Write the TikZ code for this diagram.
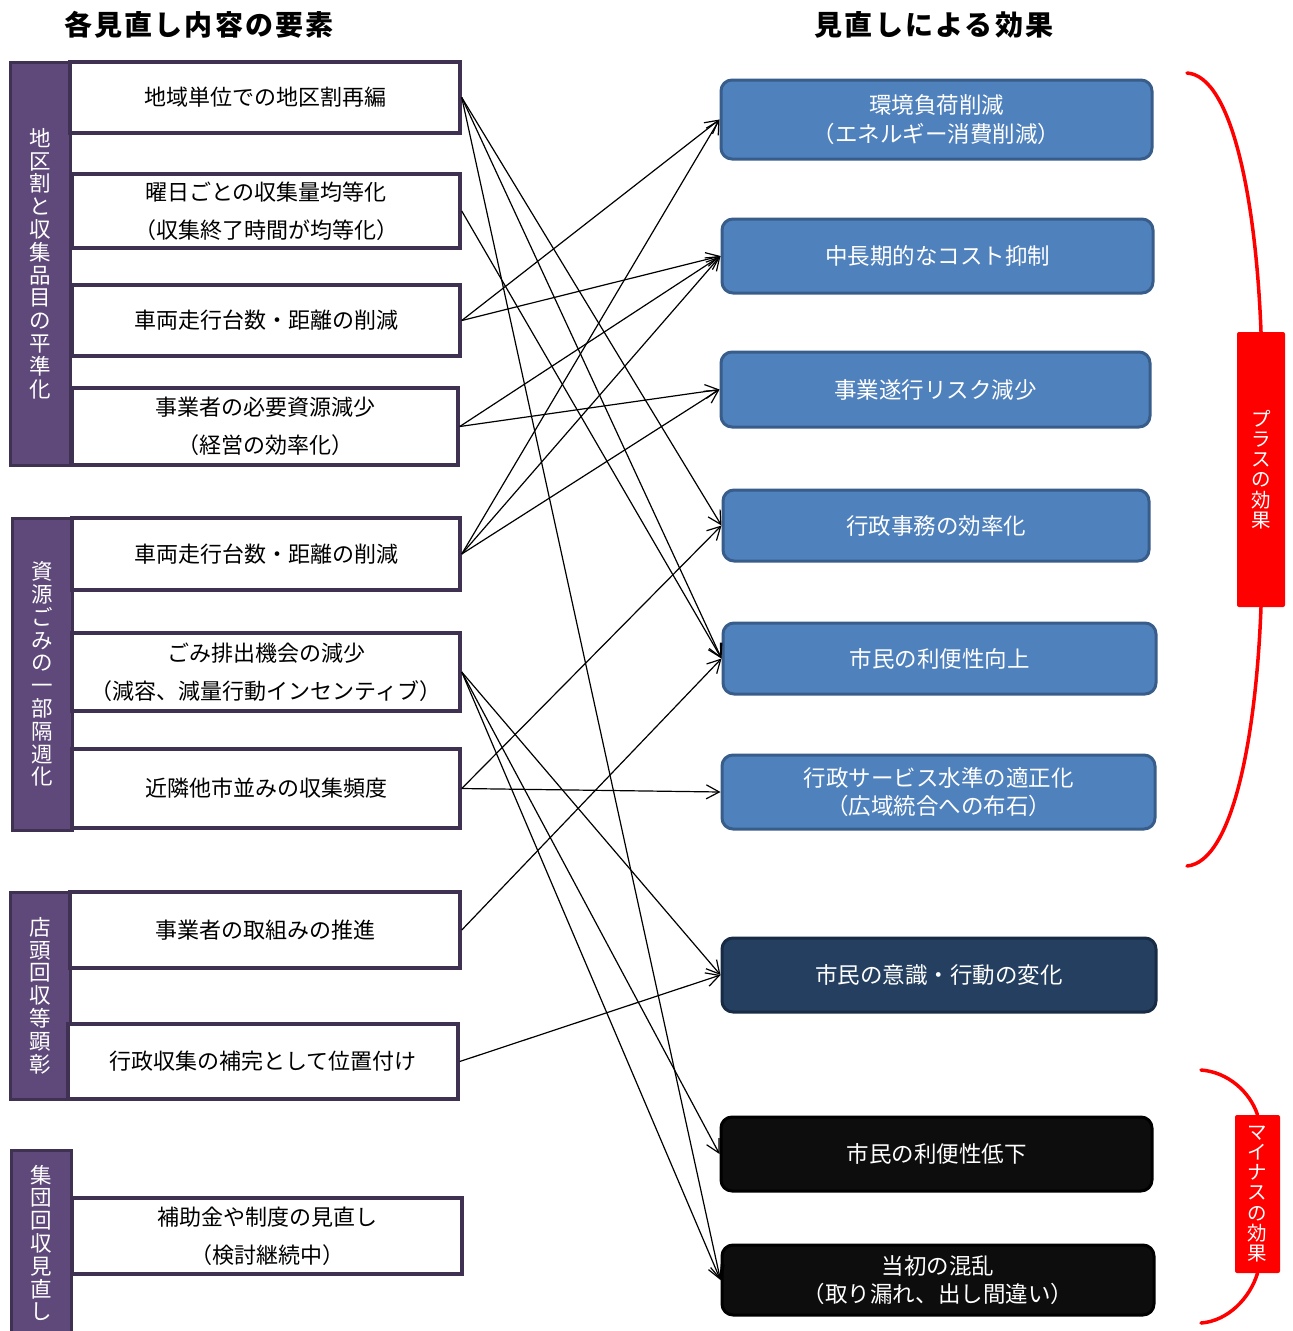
\documentclass[tikz,border=0pt]{standalone}
\usepackage{fontspec}
\setmainfont{Noto Sans CJK JP}
\usetikzlibrary{arrows.meta}
\definecolor{purplefill}{HTML}{5F497A}
\definecolor{purpledraw}{HTML}{3F3151}
\definecolor{bluefill}{HTML}{4F81BD}
\definecolor{bluedraw}{HTML}{385D8A}
\definecolor{navyfill}{HTML}{243F60}
\definecolor{navydraw}{HTML}{172B44}
\definecolor{blackfill}{HTML}{0D0D0D}
\begin{document}
\begin{tikzpicture}[x=1pt,y=-1pt,
  grp/.style={draw=purpledraw, fill=purplefill, line width=3pt, minimum width=60pt, inner sep=0pt, text=white, align=center, font=\fontsize{21.5}{22.8}\selectfont},
  lbox/.style={draw=purpledraw, fill=white, line width=3.5pt, inner sep=0pt, align=center, font=\fontsize{22}{38}\selectfont},
  rbox/.style={draw=bluedraw, fill=bluefill, line width=3pt, rounded corners=11pt, text=white, inner sep=0pt, align=center, font=\fontsize{22.5}{28.5}\selectfont},
  navybox/.style={rbox, draw=navydraw, fill=navyfill},
  blackbox/.style={rbox, draw=black, fill=blackfill},
  effbox/.style={fill=red, rounded corners=2pt, inner sep=0pt, text=white, align=center, font=\fontsize{19.5}{20.3}\selectfont},
  brace/.style={draw=red, line width=3.5pt, line cap=round},
  conn/.style={line width=1.2pt, -{Straight Barb[length=13pt,width=14pt]}},
  ttl/.style={font=\fontsize{28}{30}\selectfont\bfseries\addfontfeature{LetterSpace=8}}
]
\useasboundingbox (0,0) rectangle (1293,1331);
\fill[white] (0,0) rectangle (1293,1331);

% titles
\node[ttl] (t1) at (199,25) {各見直し内容の要素};
\node[ttl] (t2) at (934,25) {見直しによる効果};

% group bars
\node[grp, minimum height=403pt] (g1) at (40,263.5) {地\\区\\割\\と\\収\\集\\品\\目\\の\\平\\準\\化};
\node[grp, minimum height=312pt] (g2) at (42,674) {資\\源\\ご\\み\\の\\一\\部\\隔\\週\\化};
\node[grp, minimum height=207pt] (g3) at (40,995.5) {店\\頭\\回\\収\\等\\顕\\彰};
\node[grp, minimum height=186pt] (g4) at (41,1243) {集\\団\\回\\収\\見\\直\\し};

% left boxes
\node[lbox, minimum width=390pt, minimum height=71pt] (L1) at (265,97.5) {地域単位での地区割再編};
\node[lbox, minimum width=388pt, minimum height=74pt] (L2) at (266,211) {曜日ごとの収集量均等化\\（収集終了時間が均等化）};
\node[lbox, minimum width=388pt, minimum height=71pt] (L3) at (266,320.5) {車両走行台数・距離の削減};
\node[lbox, minimum width=386pt, minimum height=77pt] (L4) at (265,426.5) {事業者の必要資源減少\\（経営の効率化）};
\node[lbox, minimum width=388pt, minimum height=72pt] (L5) at (266,554) {車両走行台数・距離の削減};
\node[lbox, minimum width=388pt, minimum height=78pt] (L6) at (266,672) {ごみ排出機会の減少\\（減容、減量行動インセンティブ）};
\node[lbox, minimum width=388pt, minimum height=79pt] (L7) at (266,788.5) {近隣他市並みの収集頻度};
\node[lbox, minimum width=390pt, minimum height=76pt] (L8) at (265,930) {事業者の取組みの推進};
\node[lbox, minimum width=390pt, minimum height=75pt] (L9) at (263,1061.5) {行政収集の補完として位置付け};
\node[lbox, minimum width=390pt, minimum height=76pt] (L10) at (267,1236) {補助金や制度の見直し\\（検討継続中）};

% right boxes
\node[rbox, minimum width=431pt, minimum height=79pt] (R1) at (936.5,119.5) {環境負荷削減\\（エネルギー消費削減）};
\node[rbox, minimum width=431pt, minimum height=74pt] (R2) at (937.5,256) {中長期的なコスト抑制};
\node[rbox, minimum width=429pt, minimum height=75pt] (R3) at (935.5,389.5) {事業遂行リスク減少};
\node[rbox, minimum width=426pt, minimum height=71pt] (R4) at (936,525.5) {行政事務の効率化};
\node[rbox, minimum width=433pt, minimum height=71pt] (R5) at (939.5,658.5) {市民の利便性向上};
\node[rbox, minimum width=433pt, minimum height=74pt] (R6) at (938.5,792) {行政サービス水準の適正化\\（広域統合への布石）};
\node[navybox, minimum width=434pt, minimum height=74pt] (R7) at (939,975) {市民の意識・行動の変化};
\node[blackbox, minimum width=431pt, minimum height=74pt] (R8) at (936.5,1154) {市民の利便性低下};
\node[blackbox, minimum width=432pt, minimum height=70pt] (R9) at (938,1280) {当初の混乱\\（取り漏れ、出し間違い）};

% connectors
\draw[conn] (L1.east) -- (R4.west);
\draw[conn] (L1.east) -- (R5.west);
\draw[conn] (L1.east) -- (R9.west);
\draw[conn] (L2.east) -- (R5.west);
\draw[conn] (L3.east) -- (R1.west);
\draw[conn] (L3.east) -- (R2.west);
\draw[conn] (L4.east) -- (R2.west);
\draw[conn] (L4.east) -- (R3.west);
\draw[conn] (L5.east) -- (R1.west);
\draw[conn] (L5.east) -- (R2.west);
\draw[conn] (L5.east) -- (R3.west);
\draw[conn] (L6.east) -- (R7.west);
\draw[conn] (L6.east) -- (R8.west);
\draw[conn] (L6.east) -- (R9.west);
\draw[conn] (L7.east) -- (R4.west);
\draw[conn] (L7.east) -- (R6.west);
\draw[conn] (L8.east) -- (R5.west);
\draw[conn] (L9.east) -- (R7.west);

% effect braces
\node[effbox, minimum width=48pt, minimum height=275pt] (plus) at (1261,469.5) {プ\\ラ\\ス\\の\\効\\果};
\node[effbox, minimum width=45pt, minimum height=158pt] (minus) at (1257.5,1194) {マ\\イ\\ナ\\ス\\の\\効\\果};
\coordinate (pt) at (1187,73);
\coordinate (pb) at (1187,866);
\coordinate (mt) at (1201,1070);
\coordinate (mb) at (1201,1323);
\draw[brace] (pt) .. controls (1232,76) and (1256,200) .. (plus.north);
\draw[brace] (plus.south) .. controls (1256,740) and (1232,862) .. (pb);
\draw[brace] (mt) .. controls (1228,1072) and (1250,1092) .. (minus.north);
\draw[brace] (minus.south) .. controls (1250,1298) and (1228,1321) .. (mb);
\end{tikzpicture}
\end{document}
